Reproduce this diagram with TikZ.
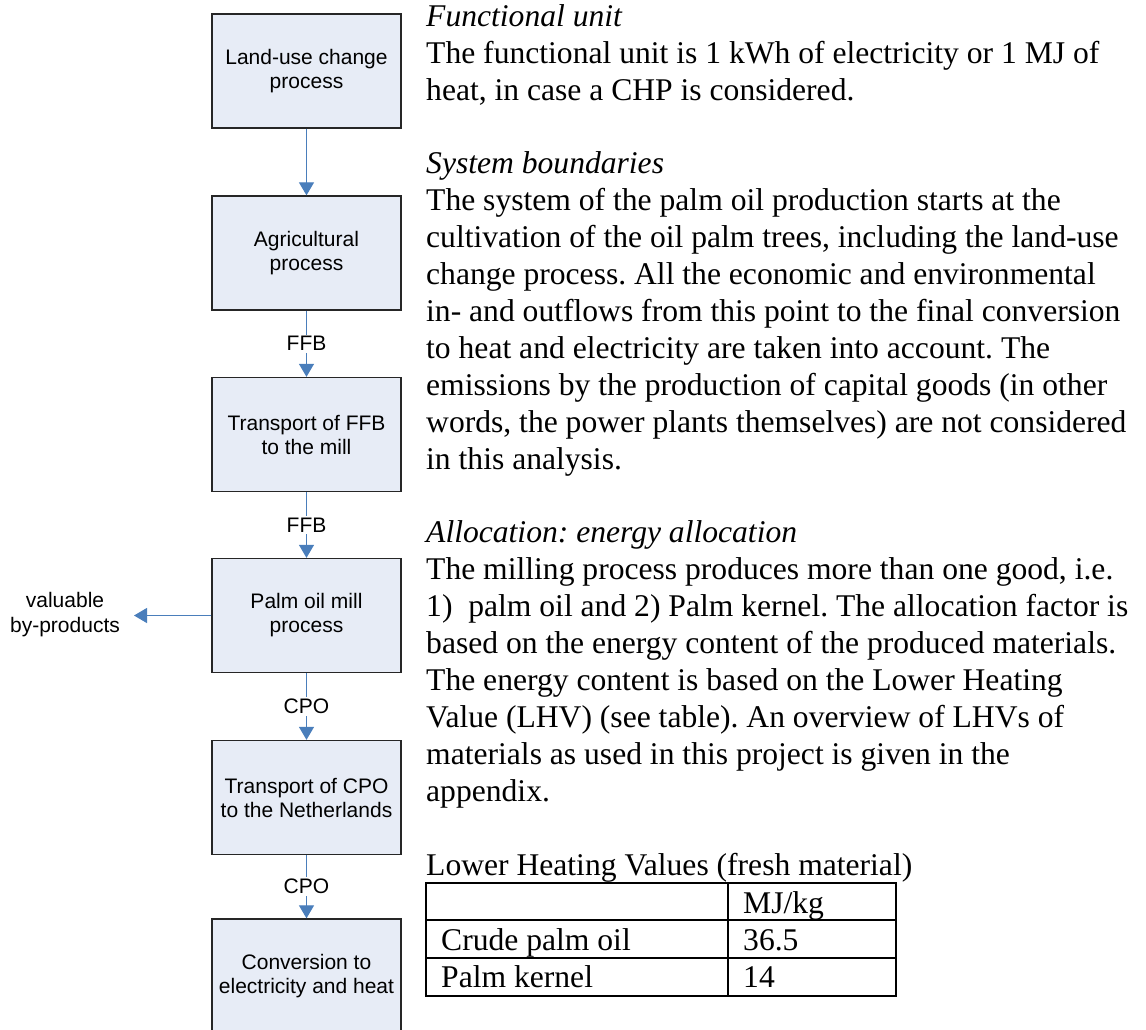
\documentclass[tikz,border=0pt]{standalone}
\usepackage{fontspec}
\setmainfont{Liberation Serif}
\newfontfamily\arialfont{Liberation Sans}
\usetikzlibrary{arrows.meta}
\definecolor{flowblue}{HTML}{4A7EBB}
\definecolor{boxfill}{HTML}{E7ECF6}
\frenchspacing

\begin{document}
\begin{tikzpicture}[x=1pt,y=-1pt,
  procbox/.style={draw=black!85, line width=1.3pt, fill=boxfill,
    minimum width=189pt, minimum height=114pt, inner sep=0pt, align=center,
    font=\arialfont\fontsize{21}{24}\selectfont},
  flow/.style={draw=flowblue, line width=1.1pt,
    -{Triangle[width=15pt,length=13pt,fill=flowblue]}},
  flowlabel/.style={fill=white, inner sep=2pt,
    font=\arialfont\fontsize{21}{24}\selectfont},
  sidelabel/.style={inner sep=0pt, align=center,
    font=\arialfont\fontsize{21}{25}\selectfont},
  bodyline/.style={anchor=base west, inner sep=0pt,
    font=\fontsize{31.6}{36.9}\selectfont},
  headline/.style={bodyline, font=\fontsize{31.6}{36.9}\selectfont\itshape},
  cell/.style={anchor=base west, inner sep=0pt,
    font=\fontsize{31.6}{36.9}\selectfont},
  rule/.style={draw=black, line width=1.8pt}
]
\useasboundingbox (0,0) rectangle (1146,1029);
\clip (0,0) rectangle (1146,1029);

% process chain
\node[procbox] (luc)  at (306.5,71)    {Land-use change\\process};
\node[procbox] (agri) at (306.5,253)   {Agricultural\\process};
\node[procbox] (tffb) at (306.5,434.5) {Transport of FFB\\to the mill};
\node[procbox] (mill) at (306.5,615.5) {Palm oil mill\\process};
\node[procbox] (tcpo) at (306.5,797.5) {Transport of CPO\\to the Netherlands};
\node[procbox] (conv) at (306.5,976)   {Conversion to\\electricity and heat};

% flows between the steps
\draw[flow] (luc) -- (agri);
\draw[flow] (agri) -- node[flowlabel] (l1) {FFB} (tffb);
\draw[flow] (tffb) -- node[flowlabel] (l2) {FFB} (mill);
\draw[flow] (mill) -- node[flowlabel] (l3) {CPO} (tcpo);
\draw[flow] (tcpo) -- node[flowlabel] (l4) {CPO} (conv);

% co-products leaving the mill
\coordinate (byend) at (134,615.5);
\draw[flow] (mill.west) -- (byend);
\node[sidelabel] (byprod) at (65,615) {valuable\\by-products};

% explanatory text
\node[headline] (h1) at (426,26.3) {Functional unit};
\foreach \k/\txt in {
  1/{The functional unit is 1 kWh of electricity or 1 MJ of},
  2/{heat, in case a CHP is considered.},
  5/{The system of the palm oil production starts at the},
  6/{cultivation of the oil palm trees, including the land-use},
  7/{change process. All the economic and environmental},
  8/{in- and outflows from this point to the final conversion},
  9/{to heat and electricity are taken into account. The},
  10/{emissions by the production of capital goods (in other},
  11/{words, the power plants themselves) are not considered},
  12/{in this analysis.},
  15/{The milling process produces more than one good, i.e.},
  16/{1)\ \ palm oil and 2) Palm kernel. The allocation factor is},
  17/{based on the energy content of the produced materials.},
  18/{The energy content is based on the Lower Heating},
  19/{Value (LHV) (see table). An overview of LHVs of},
  20/{materials as used in this project is given in the},
  21/{appendix.}}
  \node[bodyline] (t\k) at (426,26.3+36.9*\k) {\txt};
\node[headline] (h2) at (426,26.3+36.9*4) {System boundaries};
\node[headline] (h3) at (426,26.3+36.9*14) {Allocation: energy allocation};
\node[bodyline] (h4) at (426,875) {Lower Heating Values (fresh material)};

% table of heating values
\draw[rule] (426,883) rectangle (896,996);
\draw[rule] (426,920) -- (896,920);
\draw[rule] (426,958) -- (896,958);
\draw[rule] (728,883) -- (728,996);
\node[cell] (c12) at (743,913) {MJ/kg};
\node[cell] (c21) at (441,950) {Crude palm oil};
\node[cell] (c22) at (743,950) {36.5};
\node[cell] (c31) at (441,987) {Palm kernel};
\node[cell] (c32) at (743,987) {14};
\end{tikzpicture}
\end{document}
